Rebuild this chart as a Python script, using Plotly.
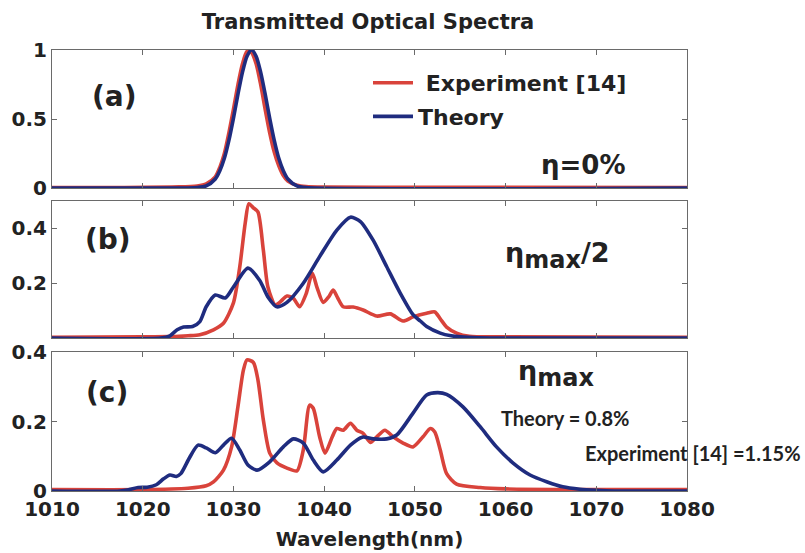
import plotly.graph_objects as go

# ---------------- data ----------------
x_ticks = [1010, 1020, 1030, 1040, 1050, 1060, 1070, 1080]

# panel (a)  eta = 0%
a_exp_x = [1010, 1018, 1024, 1026, 1027, 1028, 1028.5, 1029, 1029.5, 1030, 1030.5, 1031, 1031.5,
           1032, 1032.5, 1033, 1033.5, 1034, 1034.5, 1035, 1035.5, 1036, 1037, 1038, 1040, 1050, 1080]
a_exp_y = [0.004, 0.004, 0.008, 0.015, 0.03, 0.08, 0.15, 0.25, 0.40, 0.57, 0.75, 0.90, 0.99,
           0.98, 0.90, 0.75, 0.57, 0.40, 0.26, 0.16, 0.09, 0.05, 0.02, 0.01, 0.006, 0.005, 0.004]
a_th_x = [1010, 1025, 1026, 1027, 1028, 1028.5, 1029, 1029.5, 1030, 1030.5, 1031, 1031.5, 1032,
          1032.5, 1033, 1033.5, 1034, 1034.5, 1035, 1035.5, 1036, 1037, 1038, 1080]
a_th_y = [0.0, 0.0, 0.003, 0.015, 0.065, 0.125, 0.215, 0.345, 0.505, 0.68, 0.84, 0.955, 1.0,
          0.955, 0.84, 0.68, 0.505, 0.345, 0.215, 0.125, 0.065, 0.015, 0.003, 0.0]

# panel (b)  eta_max / 2
b_exp_x = [1010, 1020, 1023, 1024, 1025, 1026.3, 1027.8, 1028.9, 1030, 1030.7, 1031.3, 1031.7, 1032.2,
           1032.7, 1033.3, 1033.8, 1034.6, 1035.1, 1035.9, 1036.6, 1037.3, 1038, 1038.7, 1039.2,
           1039.9, 1040.5, 1041, 1041.5, 1042.1, 1043.2, 1044.3, 1045.8, 1047.3, 1048.7, 1049.8,
           1051.3, 1052.2, 1052.8, 1053.5, 1054.6, 1056, 1060, 1080]
b_exp_y = [0.003, 0.004, 0.005, 0.006, 0.008, 0.012, 0.03, 0.054, 0.128, 0.26, 0.42, 0.49, 0.475,
           0.46, 0.32, 0.186, 0.12, 0.13, 0.153, 0.145, 0.114, 0.16, 0.236, 0.186,
           0.13, 0.15, 0.175, 0.146, 0.114, 0.113, 0.102, 0.08, 0.088, 0.062, 0.077,
           0.09, 0.095, 0.07, 0.04, 0.018, 0.006, 0.004, 0.003]
b_th_x = [1010, 1022, 1023, 1023.8, 1024.5, 1025.5, 1026.3, 1027, 1028, 1029.1, 1030, 1031.6, 1032.9,
          1033.8, 1034.8, 1035.9, 1037.7, 1039.5, 1041.4, 1042.9, 1044, 1045.4, 1046.9, 1048.4,
          1049.8, 1050.6, 1051.3, 1052.8, 1054, 1055, 1057, 1080]
b_th_y = [0.0, 0.0, 0.008, 0.03, 0.04, 0.042, 0.06, 0.114, 0.157, 0.146, 0.186, 0.255, 0.21,
          0.15, 0.114, 0.13, 0.20, 0.297, 0.394, 0.441, 0.425, 0.357, 0.26, 0.163,
          0.085, 0.062, 0.042, 0.018, 0.008, 0.004, 0.001, 0.0]

# panel (c)  eta_max
c_exp_x = [1010, 1020, 1025, 1027, 1027.8, 1028.9, 1029.8, 1030.5, 1031.1, 1031.5, 1032.2, 1032.7,
           1033.3, 1034, 1034.8, 1035.9, 1037, 1037.7, 1038.4, 1038.8, 1039.5, 1040.1, 1040.9,
           1041.4, 1042.1, 1042.9, 1043.6, 1044.3, 1045.1, 1045.8, 1046.7, 1047.6, 1048.7, 1049.8,
           1050.9, 1051.7, 1052.2, 1052.8, 1053.5, 1054.6, 1057.2, 1060, 1080]
c_exp_y = [0.004, 0.004, 0.008, 0.015, 0.026, 0.06, 0.127, 0.243, 0.348, 0.377, 0.37, 0.32,
           0.204, 0.109, 0.081, 0.066, 0.058, 0.118, 0.247, 0.238, 0.156, 0.109, 0.156,
           0.18, 0.175, 0.195, 0.175, 0.166, 0.14, 0.156, 0.175, 0.156, 0.138, 0.127,
           0.156, 0.18, 0.17, 0.118, 0.05, 0.02, 0.01, 0.006, 0.004]
c_th_x = [1010, 1017.5, 1018.5, 1019.5, 1020.5, 1021.5, 1022.3, 1023, 1023.7, 1024.2, 1025.2, 1026.1,
          1027, 1028, 1028.9, 1029.8, 1030.7, 1031.6, 1032.6, 1034, 1035.5, 1036.6, 1037.7, 1038.8,
          1039.9, 1041.4, 1042.9, 1044.2, 1045.4, 1046.9, 1048, 1049.8, 1051.3, 1052.5, 1053.5,
          1055.3, 1057.2, 1059, 1060.8, 1062.7, 1064.6, 1066.3, 1068.2, 1070, 1072, 1080]
c_th_y = [0.0, 0.0, 0.004, 0.01, 0.011, 0.018, 0.035, 0.046, 0.042, 0.05, 0.098, 0.132,
          0.124, 0.11, 0.132, 0.152, 0.118, 0.075, 0.06, 0.084, 0.127, 0.15, 0.138, 0.089,
          0.055, 0.089, 0.132, 0.155, 0.15, 0.15, 0.161, 0.224, 0.276, 0.283, 0.278,
          0.242, 0.185, 0.127, 0.081, 0.046, 0.026, 0.012, 0.005, 0.002, 0.0, 0.0]

series_names = ["\u00a0Experiment [14]", "Theory"]

# ---------------- style ----------------
RED = "#d9433b"
BLUE = "#1f2c7f"
LW = 3.6
FONT = "DejaVu Sans"
AXC = "#6a6a6a"

W, H = 805, 553
ML, MR, MT, MB = 52, 118, 50, 62
PW, PH = W - ML - MR, H - MT - MB


def px(xp):
    return (xp - ML) / PW


def py(yp):
    return (H - MB - yp) / PH


fig = go.Figure()

panels = [(a_exp_x, a_exp_y, a_th_x, a_th_y, "x", "y"),
          (b_exp_x, b_exp_y, b_th_x, b_th_y, "x2", "y2"),
          (c_exp_x, c_exp_y, c_th_x, c_th_y, "x3", "y3")]
for i, (ex, ey, tx, ty, xa, ya) in enumerate(panels):
    fig.add_trace(go.Scatter(x=ex, y=ey, xaxis=xa, yaxis=ya, mode="lines",
                             line=dict(color=RED, width=LW, shape="spline", smoothing=0.7),
                             name=series_names[0], legendgroup="exp", showlegend=(i == 0)))
    fig.add_trace(go.Scatter(x=tx, y=ty, xaxis=xa, yaxis=ya, mode="lines",
                             line=dict(color=BLUE, width=LW, shape="spline", smoothing=0.7),
                             name=series_names[1], legendgroup="th", showlegend=(i == 0)))

tickfont = dict(family=FONT, size=20, color="#222", weight="bold")
xcommon = dict(range=[1010, 1080], tickvals=x_ticks, ticks="inside", ticklen=5, tickcolor=AXC,
               showline=True, linecolor=AXC, linewidth=1, mirror="ticks", showgrid=False,
               zeroline=False, tickfont=tickfont, automargin=False)
ycommon = dict(ticks="inside", ticklen=5, tickcolor=AXC, showline=True, linecolor=AXC,
               linewidth=1, mirror="ticks", showgrid=False, zeroline=False, tickfont=tickfont,
               automargin=False)

dom_a = [py(188), py(50)]
dom_b = [py(338), py(201)]
dom_c = [0, py(352)]

fig.update_layout(
    width=W, height=H,
    margin=dict(l=ML, r=MR, t=MT, b=MB),
    paper_bgcolor="white", plot_bgcolor="white",
    font=dict(family=FONT, color="#222", weight="bold"),
    xaxis=dict(**xcommon, anchor="y", showticklabels=False),
    xaxis2=dict(**xcommon, anchor="y2", matches="x", showticklabels=False),
    xaxis3=dict(**xcommon, anchor="y3", matches="x",
                title=dict(text="Wavelength(nm)",
                           font=dict(family=FONT, size=20, color="#222", weight="bold"),
                           standoff=11)),
    yaxis=dict(**ycommon, domain=dom_a, range=[0, 1], tickvals=[0, 0.5, 1],
               ticktext=["0", "0.5", "1"], anchor="x"),
    yaxis2=dict(**ycommon, domain=dom_b, range=[0, 0.5], tickvals=[0.2, 0.4],
                ticktext=["0.2", "0.4"], anchor="x2"),
    yaxis3=dict(**ycommon, domain=dom_c, range=[0, 0.4], tickvals=[0, 0.2, 0.4],
                ticktext=["0", "0.2", "0.4"], anchor="x3"),
    title=dict(text="<b>Transmitted Optical Spectra</b>", x=368 / W, xanchor="center",
               y=1 - 22 / H, yanchor="middle", font=dict(family=FONT, size=21, color="#222")),
    legend=dict(x=px(368), y=py(62), xanchor="left", yanchor="top", bgcolor="rgba(0,0,0,0)",
                font=dict(family=FONT, size=22, color="#222", weight="bold"), tracegroupgap=2,
                itemwidth=40),
    showlegend=True,
)

SUB = "<sub><span style='font-size:24px'>max</span></sub>"
annots = [
    ("(a)", 114, 97, 28, FONT, "center"),
    ("(b)", 108, 240, 28, FONT, "center"),
    ("(c)", 107, 392, 28, FONT, "center"),
    ("\u03b7=0%", 583, 165, 26, FONT, "center"),
    ("\u03b7" + SUB + "/2", 557, 255, 27, FONT, "center"),
    ("\u03b7" + SUB, 556, 374, 27, FONT, "center"),
    ("Theory = 0.8%", 565, 418, 20, "Lato", "center"),
    ("Experiment [14] =1.15%", 803, 453, 20, "Lato", "right"),
]
for txt, xp, yp, sz, fam, anc in annots:
    fig.add_annotation(text=txt, x=px(xp), y=py(yp), xref="paper", yref="paper",
                       xanchor=anc, yanchor="middle", showarrow=False,
                       font=dict(family=fam, size=sz, color="#222", weight="bold"))

fig.write_html("out.html")
